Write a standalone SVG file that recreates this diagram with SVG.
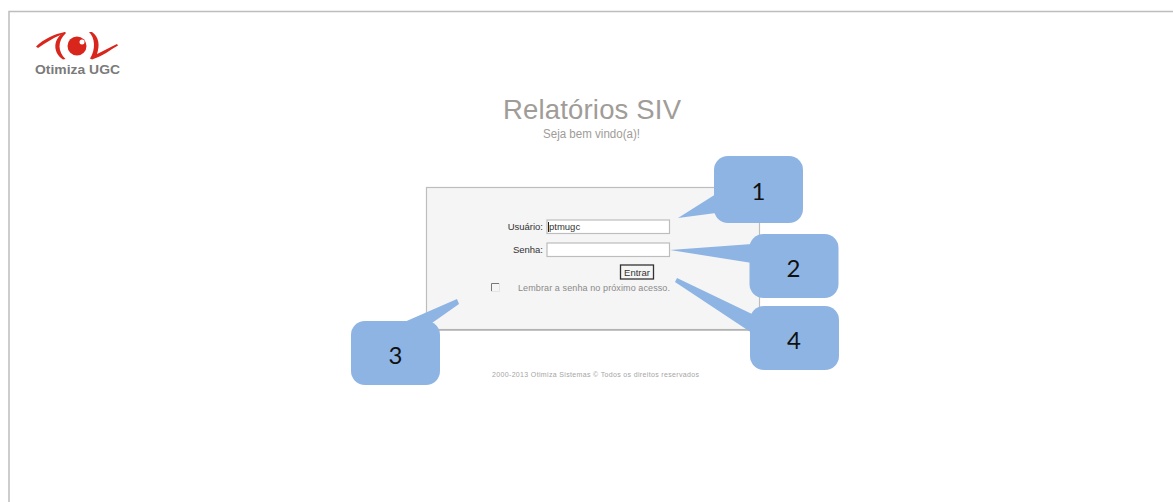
<svg xmlns="http://www.w3.org/2000/svg" width="1173" height="502" viewBox="0 0 1173 502">
<style>
text{font-family:"Liberation Sans",Arial,sans-serif}
.lab{font-size:9.500px;fill:#333}
.inp{fill:#fff;stroke:#bdbdbd;stroke-width:1.200}
.call{fill:#8eb4e3}
.num{font-family:"Lato","Open Sans",sans-serif;font-size:24px;fill:#111;text-anchor:middle}
</style>
<rect width="1173" height="502" fill="#fff"/>
<path d="M9 502V11.500H1173" fill="none" stroke="#bdbdbd" stroke-width="1.500"/>
<g id="logo">
<path d="M36 46.500C44 39 54 34 65 32L65 33.500C56 36 47 42 38 48Z" fill="#d9261c"/>
<path d="M65 32C53 38 52 52 63 59.500L65.500 59C58 52 57 41 66 33Z" fill="#d9261c"/>
<path d="M89 32C95 38 96 49 90 58.500L92 59.500C103 56 110 50 118 45.500L117 44C110 47 104 51 97 54C100 45 99 37 92 32Z" fill="#d9261c"/>
<circle cx="77" cy="46" r="9.500" fill="#d9261c"/>
<circle cx="82" cy="42" r="2.500" fill="#fff"/>
<text x="35" y="73.500" font-size="13" font-weight="700" fill="#7a7a7a" textLength="85" lengthAdjust="spacingAndGlyphs">Otimiza UGC</text>
</g>
<g id="title">
<text x="592" y="119" font-size="27.500" fill="#a09c98" text-anchor="middle" textLength="178">Relatórios SIV</text>
<text x="591.500" y="138" font-size="12" fill="#a09c98" text-anchor="middle" textLength="97" lengthAdjust="spacingAndGlyphs">Seja bem vindo(a)!</text>
</g>
<g id="login-panel">
<rect x="426.500" y="187.500" width="333" height="142" fill="#f5f5f5" stroke="#bdbdbd" stroke-width="1.200"/>
<path d="M426 330H760" stroke="#b0b0b0" stroke-width="1.500"/>
<text class="lab" x="543" y="230" text-anchor="end">Usuário:</text>
<rect class="inp" x="547" y="220" width="122.500" height="13.500"/>
<path d="M548.500 222V232" stroke="#222" stroke-width="1"/>
<text class="lab" x="549" y="230">ptmugc</text>
<text class="lab" x="543" y="253" text-anchor="end">Senha:</text>
<rect class="inp" x="547" y="243" width="122.500" height="13.500"/>
<rect x="620.500" y="265" width="33" height="14" fill="#f5f5f5" stroke="#333" stroke-width="1.300"/>
<text class="lab" x="637" y="275.500" text-anchor="middle">Entrar</text>
<path d="M491.500 291V283.500H499" fill="none" stroke="#777" stroke-width="1"/>
<path d="M499.500 283V291.500H491" fill="none" stroke="#e4e4e4" stroke-width="1"/>
<text x="518" y="291" font-size="9" fill="#8a8a8a" textLength="152">Lembrar a senha no próximo acesso.</text>
</g>
<text id="footer" x="595.500" y="377" font-size="7" fill="#a5a5a5" text-anchor="middle" textLength="207">2000-2013 Otimiza Sistemas © Todos os direitos reservados</text>
<g id="connectors">
<path class="call" d="M678 218L716 194V213Z"/>
<path class="call" d="M670 250L752 244V263Z"/>
<path class="call" d="M457 299L459 304L432 323H402Z"/>
<path class="call" d="M677 278L675 282L752 333V314Z"/>
</g>
<g id="callout-1"><rect class="call" x="714" y="156" width="89" height="67" rx="14"/><text class="num" x="758.500" y="200">1</text></g>
<g id="callout-2"><rect class="call" x="749.500" y="234" width="89" height="64" rx="14"/><text class="num" x="793.500" y="277">2</text></g>
<g id="callout-3"><rect class="call" x="351" y="321" width="89" height="64" rx="14"/><text class="num" x="395.500" y="364">3</text></g>
<g id="callout-4"><rect class="call" x="750" y="306" width="89" height="64" rx="14"/><text class="num" x="794" y="349">4</text></g>
</svg>
